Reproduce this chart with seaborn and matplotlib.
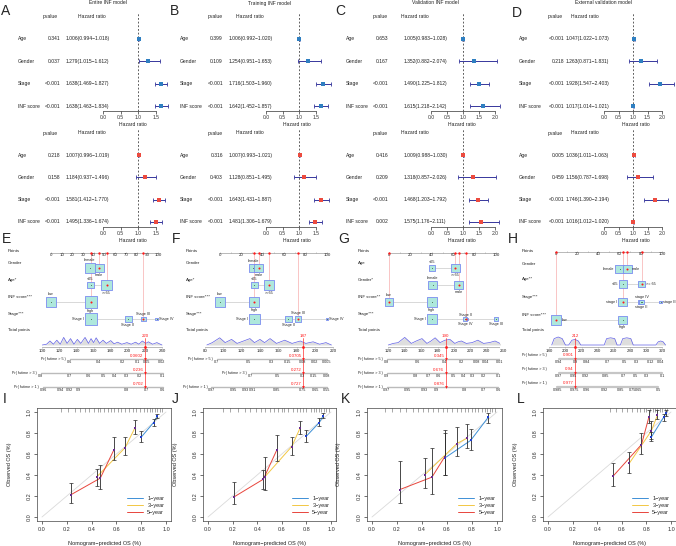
import numpy as np
import pandas as pd
from matplotlib import pyplot as plt
from matplotlib import transforms
import seaborn as sns

W, H = 676, 546

VARS = ["Age", "Gender", "Stage", "INF score"]

# ---- forest plots: row 1 (blue squares) and row 2 (red squares) ----
A1_p = ["0.341", "0.037", "<0.001", "<0.001"]
A1_hr = [1.006, 1.279, 1.638, 1.638]
A1_lo = [0.994, 1.015, 1.469, 1.463]
A1_hi = [1.018, 1.612, 1.827, 1.834]
A2_p = ["0.218", "0.158", "<0.001", "<0.001"]
A2_hr = [1.007, 1.184, 1.581, 1.495]
A2_lo = [0.996, 0.937, 1.412, 1.336]
A2_hi = [1.019, 1.496, 1.770, 1.674]
B1_p = ["0.399", "0.109", "<0.001", "<0.001"]
B1_hr = [1.006, 1.254, 1.716, 1.642]
B1_lo = [0.992, 0.951, 1.503, 1.452]
B1_hi = [1.020, 1.653, 1.960, 1.857]
B2_p = ["0.316", "0.403", "<0.001", "<0.001"]
B2_hr = [1.007, 1.128, 1.643, 1.481]
B2_lo = [0.993, 0.851, 1.431, 1.306]
B2_hi = [1.021, 1.495, 1.887, 1.679]
C1_p = ["0.653", "0.167", "<0.001", "<0.001"]
C1_hr = [1.005, 1.352, 1.490, 1.615]
C1_lo = [0.983, 0.882, 1.225, 1.218]
C1_hi = [1.028, 2.074, 1.812, 2.142]
C2_p = ["0.416", "0.209", "<0.001", "0.002"]
C2_hr = [1.009, 1.318, 1.468, 1.575]
C2_lo = [0.988, 0.857, 1.203, 1.176]
C2_hi = [1.030, 2.026, 1.792, 2.111]
D1_p = ["<0.001", "0.218", "<0.001", "<0.001"]
D1_hr = [1.047, 1.263, 1.928, 1.017]
D1_lo = [1.022, 0.871, 1.547, 1.014]
D1_hi = [1.073, 1.831, 2.403, 1.021]
D2_p = ["0.005", "0.459", "<0.001", "<0.001"]
D2_hr = [1.036, 1.156, 1.746, 1.016]
D2_lo = [1.011, 0.787, 1.390, 1.012]
D2_hi = [1.063, 1.698, 2.194, 1.020]

# ---- nomograms ----
PR_NAMES = ["Pr( futime > 5 )", "Pr( futime > 3 )", "Pr( futime > 1 )"]

E_names = ["Gender", "Age*", "INF score***", "Stage***"]
E_cats = [["female", "male"], ["<65", ">=65"], ["low", "high"],
          ["Stage I", "Stage II", "Stage III", "Stage IV"]]
E_pts = [[36, 45], [37, 52], [0, 37], [37, 72, 86, 99]]
E_freq = [[10, 9], [7, 11], [10, 12], [12, 7, 5, 3]]
E_pick = [1, 1, 1, 2]
E_total = 220
E_tot_ticks = [100, 120, 140, 160, 180, 200, 220, 240]
E_dens_x = [100, 105, 109, 113, 117, 121, 125, 129, 133, 137, 141, 145, 150, 154, 157, 160, 163,
            167, 171, 175, 180, 184, 188, 193, 199, 204, 209, 213, 217, 221, 224, 229, 234, 240]
E_dens_h = [0, 0.1, 0.5, 0.1, 0.6, 0.1, 0.95, 0.2, 0.8, 0.1, 0.7, 0.2, 0.95, 0.2, 0.8, 0.3, 0.9,
            0.2, 0.6, 0.2, 0.55, 0.15, 0.35, 0.1, 0.3, 0.1, 0.35, 0.1, 0.5, 0.2, 0.4, 0.1, 0.3, 0]
E_pr_at = [[132, 166, 194, 211, 222, 240],
           [98, 132, 154, 172, 185, 199, 214, 241],
           [101, 121, 132, 142, 199, 222, 241]]
E_pr_txt = [["0.6", "0.4", "0.2", "0.1", "0.05", "0.02"],
            ["0.8", "0.7", "0.6", "0.5", "0.4", "0.3", "0.2", "0.1"],
            ["0.96", "0.94", "0.92", "0.9", "0.8", "0.7", "0.6"]]
E_pr_val = ["0.0602", "0.236", "0.702"]

F_names = ["Gender", "Age*", "INF score***", "Stage***"]
F_cats = E_cats
F_pts = [[31, 36], [32, 46], [0, 32], [32, 64, 73, 100]]
F_freq = [[8, 9], [7, 10], [10, 10], [11, 7, 6, 3]]
F_pick = [1, 1, 1, 2]
F_total = 187
F_tot_ticks = [80, 100, 120, 140, 160, 180, 200, 220]
F_dens_x = [82, 88, 96, 102, 109, 115, 122, 129, 134, 140, 145, 151, 158, 167, 175, 184, 190,
            198, 205, 212, 218]
F_dens_h = [0, 0.3, 0.9, 0.3, 0.7, 0.2, 0.5, 0.8, 0.3, 0.7, 0.3, 0.8, 0.2, 0.6, 0.2, 0.5, 0.2,
            0.4, 0.1, 0.3, 0]
F_pr_at = [[93, 127, 153, 170, 187, 200, 213],
           [130, 159, 186, 199, 213],
           [87, 111, 124, 132, 158, 187, 201, 213]]
F_pr_txt = [["0.7", "0.5", "0.3", "0.15", "0.08", "0.02", "0.005"],
            ["0.7", "0.5", "0.3", "0.15", "0.08"],
            ["0.97", "0.95", "0.93", "0.91", "0.85", "0.75", "0.65", "0.55"]]
F_pr_val = ["0.0705", "0.272", "0.727"]

G_names = ["Age", "Gender*", "INF score**", "Stage***"]
G_cats = [["<65", ">=65"], ["female", "male"], ["low", "high"],
          ["Stage I", "Stage II", "Stage III", "Stage IV"]]
G_pts = [[40, 62], [41, 65], [0, 40], [40, 72, 100, 71]]
G_freq = [[6, 9], [9, 9], [9, 10], [10, 3, 4, 4]]
G_pick = [1, 1, 0, 1]
G_total = 190
G_tot_ticks = [120, 140, 160, 180, 200, 220, 240, 260]
G_dens_x = [120, 126, 132, 140, 148, 154, 161, 167, 172, 177, 183, 189, 195, 201, 205, 209, 215,
            222, 229, 236, 243, 250, 256, 260]
G_dens_h = [0, 0.2, 0.3, 0.95, 0.2, 0.5, 0.8, 0.2, 0.5, 0.9, 0.3, 0.6, 0.7, 0.2, 0.4, 0.5, 0.2,
            0.3, 0.6, 0.2, 0.3, 0.5, 0.2, 0]
G_pr_at = [[118, 156, 189, 209, 227, 239, 256],
           [118, 153, 169, 181, 199, 212, 222, 236, 254],
           [118, 143, 164, 179, 213, 236, 254]]
G_pr_txt = [["0.8", "0.6", "0.4", "0.2", "0.08", "0.04", "0.01"],
            ["0.9", "0.8", "0.7", "0.6", "0.5", "0.4", "0.3", "0.2", "0.1"],
            ["0.97", "0.95", "0.93", "0.9", "0.8", "0.7", "0.6"]]
G_pr_val = ["0.345", "0.676", "0.876"]

H_names = ["Gender", "Age**", "Stage***", "INF score***"]
H_cats = [["female", "male"], ["<65", ">= 65"], ["stage I", "stage II", "stage III", "stage IV"],
          ["low", "high"]]
H_pts = [[60, 67], [63, 81], [63, 80, 99, 81], [0, 63]]
H_freq = [[9, 9], [8, 7], [9, 5, 3, 5], [10, 9]]
H_pick = [1, 1, 0, 0]
H_total = 212
H_tot_ticks = [180, 200, 220, 240, 260, 280, 300, 320]
H_dens_x = [183, 186, 191, 196, 200, 204, 208, 212, 216, 219, 248, 251, 256, 261, 264,
            268, 271, 276, 281, 284, 312, 315, 318, 321, 324]
H_dens_h = [0, 0.8, 1.0, 0.8, 0, 0, 0.6, 0.7, 0.5, 0, 0, 0.8, 0.9, 0.8, 0,
            0, 0.8, 0.9, 0.8, 0, 0, 0.4, 0.5, 0.4, 0]
H_pr_at = [[192, 212, 226, 252, 273, 288, 305, 318],
           [192, 210, 225, 250, 272, 287, 300, 320],
           [190, 211, 226, 249, 268, 283, 291, 315]]
H_pr_txt = [["0.94", "0.9", "0.84", "0.7", "0.5", "0.3", "0.12", "0.04"],
            ["0.97", "0.95", "0.92", "0.85", "0.7", "0.5", "0.3", "0.1"],
            ["0.985", "0.975", "0.96", "0.92", "0.85", "0.75", "0.65", "0.5"]]
H_pr_val = ["0.901", "0.94", "0.977"]

# ---- calibration curves: lists are 1-year, 3-year, 5-year ----
YEARS = ["1\u2212year", "3\u2212year", "5\u2212year"]
I_pred = [[0.80, 0.90, 0.93], [0.44, 0.67, 0.75], [0.23, 0.47, 0.58]]
I_obs = [[0.76, 0.90, 0.96], [0.38, 0.66, 0.85], [0.21, 0.37, 0.64]]
I_lo = [[0.71, 0.87, 0.94], [0.30, 0.59, 0.79], [0.13, 0.27, 0.54]]
I_hi = [[0.82, 0.93, 0.98], [0.46, 0.76, 0.92], [0.32, 0.50, 0.76]]
J_pred = [[0.80, 0.905, 0.935], [0.46, 0.68, 0.75], [0.21, 0.45, 0.56]]
J_obs = [[0.77, 0.90, 0.96], [0.38, 0.67, 0.85], [0.19, 0.36, 0.64]]
J_lo = [[0.71, 0.87, 0.94], [0.26, 0.59, 0.79], [0.12, 0.27, 0.53]]
J_hi = [[0.83, 0.94, 0.99], [0.57, 0.76, 0.91], [0.33, 0.45, 0.78]]
K_pred = [[0.58, 0.79, 0.93], [0.42, 0.68, 0.76], [0.22, 0.48, 0.58]]
K_obs = [[0.56, 0.73, 0.95], [0.40, 0.70, 0.75], [0.26, 0.38, 0.57]]
K_lo = [[0.40, 0.64, 0.90], [0.28, 0.58, 0.66], [0.13, 0.22, 0.40]]
K_hi = [[0.83, 0.84, 0.99], [0.56, 0.86, 0.89], [0.53, 0.66, 0.80]]
L_pred = [[0.84, 0.94, 0.96], [0.66, 0.84, 0.89], [0.53, 0.76, 0.82]]
L_obs = [[0.76, 0.95, 0.99], [0.51, 0.82, 0.97], [0.39, 0.69, 0.95]]
L_lo = [[0.72, 0.91, 0.96], [0.42, 0.74, 0.93], [0.30, 0.60, 0.90]]
L_hi = [[0.81, 0.98, 1.02], [0.62, 0.91, 1.02], [0.51, 0.80, 1.02]]
I_rug = [0.15, 0.21, 0.27, 0.31, 0.35, 0.38, 0.42, 0.45, 0.47, 0.5, 0.53, 0.56, 0.58, 0.61,
         0.64, 0.67, 0.7, 0.73, 0.76, 0.79, 0.82, 0.85, 0.87, 0.89, 0.91, 0.93, 0.95, 0.97]
J_rug = [0.12, 0.18, 0.24, 0.3, 0.34, 0.39, 0.43, 0.46, 0.5, 0.54, 0.57, 0.6, 0.62, 0.65,
         0.69, 0.72, 0.75, 0.77, 0.8, 0.84, 0.86, 0.88, 0.9, 0.92, 0.94, 0.96, 0.98]
K_rug = [0.1, 0.16, 0.22, 0.27, 0.33, 0.37, 0.41, 0.45, 0.49, 0.53, 0.57, 0.6, 0.64, 0.68,
         0.71, 0.74, 0.77, 0.8, 0.82, 0.85, 0.88, 0.9, 0.92, 0.94, 0.96, 0.98]
L_rug = [0.5, 0.55, 0.6, 0.64, 0.68, 0.72, 0.75, 0.78, 0.8, 0.83, 0.85, 0.87, 0.89, 0.91,
         0.93, 0.95, 0.97]

sns.set_style("white")
plt.rcParams["font.family"] = ["Liberation Sans", "DejaVu Sans"]

FS = 3.6    # forest text
FSN = 3.2   # nomogram text
FSS = 2.7   # nomogram small text
FSC = 4.0   # calibration text
TXT = "#222222"

fig = plt.figure(figsize=(W / 100, H / 100), dpi=100)
fig.patch.set_facecolor("white")


def rect(x0, y0, x1, y1):
    return [x0 / W, 1 - y1 / H, (x1 - x0) / W, (y1 - y0) / H]


def fig_x(ax):
    return transforms.blended_transform_factory(fig.transFigure, ax.transData)


def forest(cfg, top_px, ppr, p, hr, lo, hi, color):
    x0, x1 = cfg["zero"] - 8, cfg["x1"]
    ax = fig.add_axes(rect(x0, top_px - 0.3 * ppr, x1, top_px + 4.22 * ppr))
    ax.patch.set_alpha(0)
    ax.set_xlim((x0 - cfg["zero"]) / cfg["ppu"], (x1 - cfg["zero"]) / cfg["ppu"])
    ax.set_ylim(4.22, -0.3)
    df = pd.DataFrame({"var": VARS, "row": np.arange(1, 5), "hr": hr, "lo": lo, "hi": hi, "p": p})
    ax.axvline(1, ymax=0.97, color="#444444", lw=0.6, ls=(0, (2.2, 2.2)), zorder=1)
    ax.errorbar(df.hr, df.row, xerr=[df.hr - df.lo, df.hi - df.hr], fmt="none",
                ecolor="#36369c", elinewidth=0.7, capsize=1.4, capthick=0.6, zorder=2)
    sns.scatterplot(data=df, x="hr", y="row", marker="s", color=color, s=7, linewidth=0,
                    ax=ax, zorder=3)
    for s in ["top", "right", "left"]:
        ax.spines[s].set_visible(False)
    ticks = cfg["ticks"]
    ax.spines["bottom"].set_bounds(ticks[0], ticks[-1])
    ax.spines["bottom"].set_linewidth(0.5)
    ax.spines["bottom"].set_color("#333333")
    ax.set_xticks(ticks)
    ax.set_xticklabels([f"{t:.1f}" for t in ticks])
    ax.tick_params(axis="x", bottom=True, length=2, width=0.5, labelsize=FS, pad=1,
                   colors="#333333")
    ax.set_yticks([])
    ax.set_ylabel("")
    ax.set_xlabel("Hazard ratio", fontsize=FS, labelpad=1.5, color=TXT)
    tr = fig_x(ax)
    ax.text(cfg["ph"] / W, 0, "pvalue", transform=tr, ha="center", va="center", fontsize=FS, color=TXT)
    ax.text(cfg["hh"] / W, 0, "Hazard ratio", transform=tr, ha="center", va="center", fontsize=FS, color=TXT)
    for _, r in df.iterrows():
        ax.text(cfg["lab"] / W, r.row, r["var"], transform=tr, ha="left", va="center", fontsize=FS, color=TXT)
        ax.text(cfg["pr"] / W, r.row, r.p, transform=tr, ha="right", va="center", fontsize=FS, color=TXT)
        ax.text(cfg["hl"] / W, r.row, f"{r.hr:.3f}({r.lo:.3f}\u2212{r.hi:.3f})", transform=tr,
                ha="left", va="center", fontsize=FS, color=TXT)


def cat_label(ax, x, y, text, where, side, ppu):
    off = side / 2 + 0.6
    if where == "a":
        ax.text(x, y - off, text, ha="center", va="bottom", fontsize=FSS, color=TXT)
    elif where == "b":
        ax.text(x, y + off, text, ha="center", va="top", fontsize=FSS, color=TXT)
    elif where == "r":
        ax.text(x + off / ppu, y, text, ha="left", va="center", fontsize=FSS, color=TXT)
    else:
        ax.text(x - off / ppu, y, text, ha="right", va="center", fontsize=FSS, color=TXT)


def nomogram(cfg, names, cats, pts, freq, pick, tot_ticks, dens_x, dens_h, total,
             pr_at, pr_txt, pr_val):
    x0, x1 = cfg["x0"], cfg["x1"]
    row_y = cfg["rows"]
    ax = fig.add_axes(rect(x0, 240, x1, 400))
    ax.axis("off")
    a, b = cfg["pts_px"]
    ppu = (b - a) / 100
    ax.set_xlim((x0 - a) / ppu, (x1 - a) / ppu)
    ax.set_ylim(400, 240)
    tr = fig_x(ax)
    yp = row_y[0]
    ticks = np.arange(0, 101, 10)
    ax.plot([0, 100], [yp, yp], color="#9c9c9c", lw=0.5, zorder=1)
    ax.vlines(ticks, yp - 1.2, yp, color="#9c9c9c", lw=0.4)
    for t in ticks[::cfg["step"]]:
        ax.text(t, yp + 0.4, str(t), ha="center", va="top", fontsize=FSN, color=TXT)
    ax.text(cfg["lab"] / W, yp - 1.5, "Points", transform=tr, ha="left", va="center", fontsize=FSN, color=TXT)
    for i in range(len(names)):
        y = row_y[i + 1]
        p = np.array(pts[i], dtype=float)
        side = np.array(freq[i], dtype=float)
        k = pick[i]
        ax.text(cfg["lab"] / W, y - 4.5, names[i], transform=tr, ha="left", va="center",
                fontsize=FSN, color=TXT)
        ax.plot([p.min(), p.max()], [y, y], color="#d2d2d2", lw=0.6, zorder=1)
        ax.plot([p[k], p[k]], [yp, y], color="#f6a5a5", lw=0.45, zorder=1)
        ax.scatter(p, np.full(len(p), y), marker="s", s=(side / 1.389) ** 2,
                   facecolor="#aee8dc", edgecolor="#7a8cf0", linewidth=0.6, zorder=2)
        others = [j for j in range(len(p)) if j != k]
        ax.scatter(p[others], np.full(len(others), y), s=0.3, color="#335533", zorder=3, linewidth=0)
        ax.scatter([p[k]], [y], s=2.2, color="#ff1a1a", zorder=4, linewidth=0)
        ax.scatter([p[k]], [yp], s=3, color="#ff1a1a", zorder=4, linewidth=0)
        for j in range(len(p)):
            cat_label(ax, p[j], y, cats[i][j], cfg["where"][i][j], side[j], ppu)

    bx = fig.add_axes(rect(x0, 240, x1, 400))
    bx.axis("off")
    t0, t1 = tot_ticks[0], tot_ticks[-1]
    tpu = (cfg["tot_px"][1] - cfg["tot_px"][0]) / (t1 - t0)
    bx.set_xlim(t0 + (x0 - cfg["tot_px"][0]) / tpu, t0 + (x1 - cfg["tot_px"][0]) / tpu)
    bx.set_ylim(400, 240)
    tr2 = fig_x(bx)
    bx.text(cfg["lab"] / W, 330, "Total points", transform=tr2, ha="left", va="center",
            fontsize=FSN, color=TXT)
    base = 345
    dh = base - np.array(dens_h) * 8
    bx.fill_between(dens_x, base, dh, color="#dedede", lw=0)
    bx.plot(dens_x, dh, color="#6060e6", lw=0.5)
    bx.plot([t0, t1], [347, 347], color="#9c9c9c", lw=0.5)
    bx.vlines(tot_ticks, 347, 348.2, color="#9c9c9c", lw=0.4)
    for t in tot_ticks:
        bx.text(t, 348.6, str(t), ha="center", va="top", fontsize=FSN, color=TXT)
    pr_y = cfg["pr_y"]
    hstyle = cfg.get("hstyle", False)
    last = pr_y[-1] + (3.5 if hstyle else 0)
    bx.plot([total, total], [338, last], color="#ff3030", lw=0.5, zorder=3)
    bx.scatter([total], [347], s=4, color="#ff1a1a", zorder=4, linewidth=0)
    bx.text(total, 338, str(total), ha="center", va="bottom", fontsize=FSN, color="#ff1a1a")
    for j, y in enumerate(pr_y):
        at = pr_at[j]
        if hstyle:
            ybar = y + 3.5
            bx.text(cfg["lab"] / W, y, PR_NAMES[j], transform=tr2, ha="left", va="center",
                    fontsize=FSS, color=TXT)
            bx.plot([at[0], at[-1]], [ybar, ybar], color="#c6c6c6", lw=1.6, zorder=1)
            for t, s in zip(at, pr_txt[j]):
                bx.text(t, ybar + 1.2, s, ha="center", va="top", fontsize=FSS, color=TXT)
            bx.text(total - 1.5 / tpu, y, pr_val[j], ha="right", va="center", fontsize=FSN, color="#ff1a1a")
            bx.scatter([total], [ybar], marker="v", s=3.5, color="#ff1a1a", zorder=4, linewidth=0)
        else:
            bx.plot([at[0], at[-1]], [y, y], color="#bbbbbb", lw=1.0, zorder=1)
            for t, s in zip(at, pr_txt[j]):
                bx.text(t, y + 0.6, s, ha="center", va="top", fontsize=FSS, color=TXT)
            bx.text(at[0] - 4 / tpu, y, PR_NAMES[j], ha="right", va="center", fontsize=FSS, color=TXT)
            bx.text(total - 1.5 / tpu, y - 1.2, pr_val[j], ha="right", va="bottom", fontsize=FSN,
                    color="#ff1a1a")
            bx.scatter([total], [y], marker="v", s=4, color="#ff1a1a", zorder=4, linewidth=0)


LINE_COLS = ["#3d8fd6", "#f2c744", "#e8453c"]
MARK_COLS = ["#1f3fd0", "#6b2c8f", "#6b2c8f"]


def calib(zero_px, one_px, pred, obs, lo, hi, rug):
    ppu = one_px - zero_px
    ax = fig.add_axes(rect(zero_px - 0.04 * ppu, 407.8, zero_px + 1.04 * ppu, 521.2))
    ax.set_xlim(-0.04, 1.04)
    ax.set_ylim(-0.04, 1.04)
    ax.plot([0, 1], [0, 1], color="#dadada", lw=0.6, zorder=1)
    ax.vlines(rug, 1.003, 1.035, color="#666666", lw=0.4)
    for k in range(3):
        df = pd.DataFrame({"pred": pred[k], "obs": obs[k], "lo": lo[k], "hi": hi[k]})
        sns.lineplot(data=df, x="pred", y="obs", color=LINE_COLS[k], lw=0.7, ax=ax,
                     label=YEARS[k], zorder=2)
        ax.errorbar(df.pred, df.obs, yerr=[df.obs - df.lo, df.hi - df.obs], fmt="none",
                    ecolor="#2a2a2a", elinewidth=0.6, capsize=1.2, capthick=0.5, zorder=3)
        sns.scatterplot(data=df, x="pred", y="obs", marker="s", color=MARK_COLS[k], s=4,
                        linewidth=0, ax=ax, zorder=4)
    ticks = [0, 0.2, 0.4, 0.6, 0.8, 1.0]
    ax.set_xticks(ticks)
    ax.set_yticks(ticks)
    ax.set_xticklabels([f"{t:.1f}" for t in ticks])
    ax.set_yticklabels([f"{t:.1f}" for t in ticks], rotation=90, va="center")
    ax.tick_params(bottom=True, left=True, length=2, width=0.5, labelsize=FSC, pad=2,
                   colors="#333333")
    for s in ax.spines.values():
        s.set_linewidth(0.5)
        s.set_color("#444444")
    ax.set_xlabel("Nomogram\u2212predicted OS (%)", fontsize=FSC, color=TXT)
    ax.set_ylabel("Observed OS (%)", fontsize=FSC, color=TXT)
    ax.xaxis.set_label_coords(0.5, -0.176)
    ax.yaxis.set_label_coords(-0.19, 0.5)
    ax.legend(loc="lower right", frameon=False, fontsize=FSC, handlelength=2.8,
              labelspacing=0.35, borderaxespad=0.8, handletextpad=0.8)


# ---- forest layout ----
COLS = [
    dict(zero=103, ppu=35.3, x1=170, ticks=[0, 0.5, 1.0, 1.5], lab=18, pr=60, ph=50, hl=66, hh=92,
         title="Entire INF model", tx=108, letter="A", lx=1, ly=11),
    dict(zero=266, ppu=33.3, x1=335, ticks=[0, 0.5, 1.0, 1.5], lab=180, pr=223, ph=215, hl=229, hh=250,
         title="Training INF model", tx=270, letter="B", lx=170, ly=11),
    dict(zero=431, ppu=32.0, x1=500, ticks=[0, 0.5, 1.0, 1.5, 2.0], lab=346, pr=388, ph=380, hl=404,
         hh=415, title="Validation INF model", tx=435, letter="C", lx=335, ly=11),
    dict(zero=604, ppu=29.0, x1=676, ticks=[0, 0.5, 1.0, 1.5, 2.0], lab=519, pr=564, ph=555, hl=566,
         hh=585, title="External validation model", tx=603, letter="D", lx=512, ly=13),
]
TOP = [(A1_p, A1_hr, A1_lo, A1_hi), (B1_p, B1_hr, B1_lo, B1_hi),
       (C1_p, C1_hr, C1_lo, C1_hi), (D1_p, D1_hr, D1_lo, D1_hi)]
BOT = [(A2_p, A2_hr, A2_lo, A2_hi), (B2_p, B2_hr, B2_lo, B2_hi),
       (C2_p, C2_hr, C2_lo, C2_hi), (D2_p, D2_hr, D2_lo, D2_hi)]
for cfg, t, b in zip(COLS, TOP, BOT):
    forest(cfg, 16.5, 22.4, *t, color="#2f7fc1")
    forest(cfg, 133, 22.2, *b, color="#ec4b3f")
    fig.text(cfg["tx"] / W, 1 - 3 / H, cfg["title"], ha="center", va="center", fontsize=FS, color=TXT)
    fig.text(cfg["lx"] / W, 1 - cfg["ly"] / H, cfg["letter"], ha="left", va="center", fontsize=10)

# ---- nomogram layout ----
ROWS = [253, 268, 285, 302, 319]
PRY = [359, 373, 387]
nomogram(dict(x0=0, x1=170, pts_px=(51, 158), lab=8, rows=ROWS, step=1, tot_px=(42.3, 162),
              pr_y=PRY, where=[["a", "b"], ["a", "b"], ["a", "b"], ["l", "b", "a", "r"]]),
         E_names, E_cats, E_pts, E_freq, E_pick, E_tot_ticks, E_dens_x, E_dens_h, E_total,
         E_pr_at, E_pr_txt, E_pr_val)
nomogram(dict(x0=170, x1=335, pts_px=(220, 327), lab=186, rows=ROWS, step=2, tot_px=(205, 333.3),
              pr_y=PRY, where=[["a", "b"], ["a", "b"], ["a", "b"], ["l", "b", "a", "r"]]),
         F_names, F_cats, F_pts, F_freq, F_pick, F_tot_ticks, F_dens_x, F_dens_h, F_total,
         F_pr_at, F_pr_txt, F_pr_val)
nomogram(dict(x0=335, x1=500, pts_px=(389, 496), lab=358, rows=ROWS, step=2, tot_px=(388.3, 503.3),
              pr_y=PRY, where=[["a", "b"], ["a", "b"], ["a", "b"], ["l", "a", "b", "b"]]),
         G_names, G_cats, G_pts, G_freq, G_pick, G_tot_ticks, G_dens_x, G_dens_h, G_total,
         G_pr_at, G_pr_txt, G_pr_val)
nomogram(dict(x0=500, x1=676, pts_px=(556, 662), lab=522, rows=[252, 269, 284, 302, 320], step=2,
              tot_px=(549.3, 662.3), pr_y=[355.5, 369.5, 383.5], hstyle=True,
              where=[["l", "r"], ["l", "r"], ["l", "b", "r", "a"], ["r", "b"]]),
         H_names, H_cats, H_pts, H_freq, H_pick, H_tot_ticks, H_dens_x, H_dens_h, H_total,
         H_pr_at, H_pr_txt, H_pr_val)
for letter, lx in zip("EFGH", [2, 172, 338, 508]):
    fig.text(lx / W, 1 - 239 / H, letter, ha="left", va="center", fontsize=10)

# ---- calibration layout ----
calib(42, 166, I_pred, I_obs, I_lo, I_hi, I_rug)
calib(208, 331, J_pred, J_obs, J_lo, J_hi, J_rug)
calib(372, 497, K_pred, K_obs, K_lo, K_hi, K_rug)
calib(548, 671, L_pred, L_obs, L_lo, L_hi, L_rug)
for letter, lx in zip("IJKL", [3, 172, 341, 517]):
    fig.text(lx / W, 1 - 399 / H, letter, ha="left", va="center", fontsize=10)

fig.savefig("out.png", dpi=100, facecolor="white")
